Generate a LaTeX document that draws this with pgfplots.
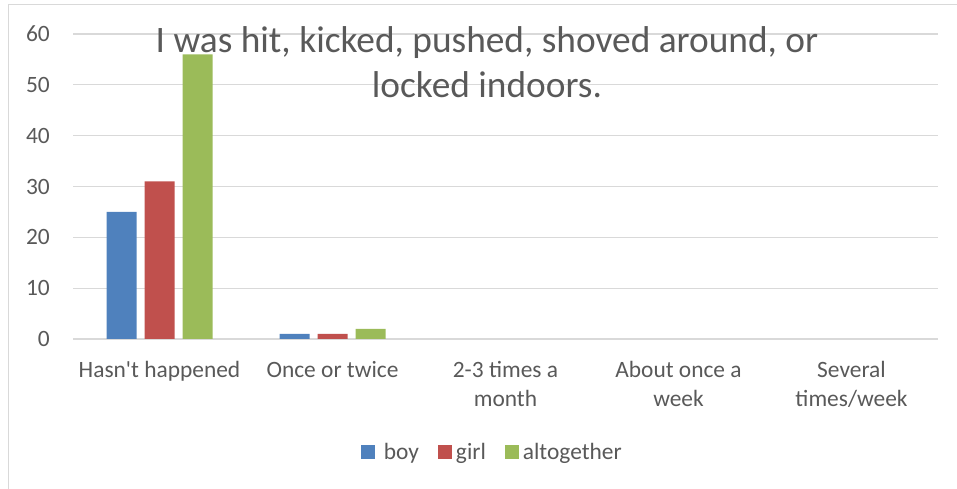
\documentclass[border=0pt]{standalone}
\usepackage{pgfplots}
\pgfplotsset{compat=1.18}
\usepackage{fontspec}
\setmainfont{Carlito}
\definecolor{cboy}{HTML}{4F81BD}
\definecolor{cgirl}{HTML}{C0504D}
\definecolor{call}{HTML}{9BBB59}
\definecolor{gridc}{HTML}{D9D9D9}
\definecolor{txt}{HTML}{595959}
\begin{document}
\begin{tikzpicture}
\useasboundingbox (0bp,0bp) rectangle (957bp,489bp);
\draw[gridc, line width=1.5bp] (8.5bp,0bp) -- (8.5bp,484.5bp) -- (957bp,484.5bp);
\begin{axis}[
  at={(73bp,150bp)}, anchor=south west,
  scale only axis, width=865bp, height=305bp,
  ybar=8bp, bar width=30bp,
  xmin=-0.5, xmax=4.5, ymin=0, ymax=60,
  xtick={0,1,2,3,4},
  xticklabels={Hasn\textquotesingle t happened, Once or twice, {2-3 times a\\month}, {About once a\\week}, {Several\\times/week}},
  xticklabel style={align=center, font=\fontsize{23.5}{29}\selectfont, text=txt, anchor=north, inner sep=0pt, yshift=-22bp},
  ytick={0,10,...,60},
  yticklabel style={font=\fontsize{23.5}{28}\selectfont, text=txt, anchor=east, inner sep=0pt, xshift=-23bp},
  /pgf/number format/assume math mode=true,
  ymajorgrids, xmajorgrids=false, grid style={draw=gridc, line width=1.2bp},
  axis line style={draw=none},
  axis x line*=bottom,
  x axis line style={draw=gridc, line width=1.2bp},
  major tick length=0pt,
  unbounded coords=discard,
  y filter/.expression={y==0 ? nan : y},
  legend style={draw=none, at={(0.484,-0.37)}, anchor=center, legend columns=-1,
    font=\fontsize{23.5}{28}\selectfont, text=txt,
    nodes={inner xsep=1bp},
    /tikz/every odd column/.append style={column sep=3bp},
    /tikz/every even column/.append style={column sep=18bp}},
  legend cell align=left,
]
\addplot[fill=cboy, draw=none, legend image code/.code={\fill[cboy] (0bp,-7bp) rectangle (14bp,7bp);}] coordinates {(0,25) (1,1) (2,0) (3,0) (4,0)};
\addplot[fill=cgirl, draw=none, legend image code/.code={\fill[cgirl] (0bp,-7bp) rectangle (14bp,7bp);}] coordinates {(0,31) (1,1) (2,0) (3,0) (4,0)};
\addplot[fill=call, draw=none, legend image code/.code={\fill[call] (0bp,-7bp) rectangle (14bp,7bp);}] coordinates {(0,56) (1,2) (2,0) (3,0) (4,0)};
\legend{\ boy, girl, altogether}
\end{axis}
\node[align=center, text=txt, font=\fontsize{37.5}{45}\selectfont] at (487bp,427bp) {I was hit, kicked, pushed, shoved around, or\\locked indoors.};
\end{tikzpicture}
\end{document}
